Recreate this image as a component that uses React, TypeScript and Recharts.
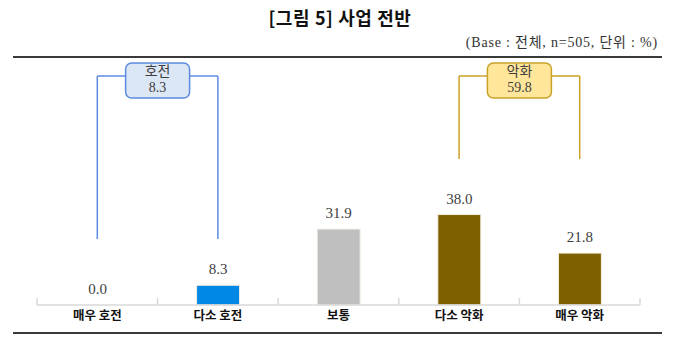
import { Bar, BarChart, Cell, LabelList, ReferenceLine, XAxis, YAxis } from 'recharts';

const categories = ['매우 호전', '다소 호전', '보통', '다소 악화', '매우 악화'];
const shares = [0.0, 8.3, 31.9, 38.0, 21.8];
const barColors = ['#0070C0', '#0088E6', '#BFBFBF', '#7F6000', '#7F6000'];

const groupNames = ['호전', '악화'];
const groupTotals = [8.3, 59.8];
const groupFrom = ['매우 호전', '다소 악화'];
const groupTo = ['다소 호전', '매우 악화'];

// bracket styling (levels are in the chart's value units)
const bracketStyles = [
  { line: '#5B8BE0', fill: '#DCE7F6', bottom: 27.7 },
  { line: '#C9A227', fill: '#FFE69A', bottom: 61.3 },
];
const BRACKET_TOP = 96.2;

const AXIS = '#D9D9D9';
const SERIF = '"Liberation Serif", "Noto Sans CJK KR", serif';
const GOTHIC = '"Noto Sans CJK KR", "Noto Sans", sans-serif';

const data = categories.map((name, i) => ({ name, value: shares[i] }));

function CategoryTick(props: any) {
  const { x, y, payload, index } = props;
  const half = payload?.offset ?? 60;
  return (
    <g>
      <line x1={x - half} x2={x - half} y1={y - 7} y2={y} stroke={AXIS} strokeWidth={1.5} />
      {index === categories.length - 1 && (
        <line x1={x + half} x2={x + half} y1={y - 7} y2={y} stroke={AXIS} strokeWidth={1.5} />
      )}
      <text
        x={x}
        y={y + 15}
        textAnchor="middle"
        fontFamily={GOTHIC}
        fontWeight={700}
        fontSize={12.5}
        fill="#111"
      >
        {payload.value}
      </text>
    </g>
  );
}

function makeBracketLabel(name: string, total: number, line: string, fill: string) {
  return (props: any) => {
    const vb = props.viewBox ?? {};
    const cx = (vb.x ?? 0) + (vb.width ?? 0) / 2;
    const cy = vb.y ?? 0;
    return (
      <g>
        <rect x={cx - 32} y={cy - 13} width={64} height={35} rx={6} fill={fill} stroke={line} strokeWidth={1.5} />
        <text x={cx} y={cy} textAnchor="middle" fontFamily={SERIF} fontSize={14} fill="#404040">
          {name}
        </text>
        <text x={cx} y={cy + 16} textAnchor="middle" fontFamily={SERIF} fontSize={14} fill="#404040">
          {total.toFixed(1)}
        </text>
      </g>
    );
  };
}

export default function App() {
  return (
    <div style={{ position: 'absolute', left: 0, top: 0, width: 680, height: 349, background: '#fff' }}>
      <div style={{ position: 'absolute', left: 0, top: 0 }}>
        <BarChart width={680} height={349} data={data} margin={{ top: 67, right: 40, bottom: 20, left: 37 }}>
          <XAxis
            dataKey="name"
            height={24}
            tickLine={false}
            tickSize={0}
            tickMargin={0}
            axisLine={{ stroke: AXIS, strokeWidth: 1.5 }}
            tick={<CategoryTick />}
            interval={0}
          />
          <YAxis hide domain={[0, 100]} />
          {groupNames.map((name, i) => {
            const st = bracketStyles[i];
            return [
              <ReferenceLine
                key={name + 'l'}
                segment={[{ x: groupFrom[i], y: BRACKET_TOP }, { x: groupFrom[i], y: st.bottom }]}
                stroke={st.line}
                strokeWidth={1.5}
                ifOverflow="visible"
              />,
              <ReferenceLine
                key={name + 'r'}
                segment={[{ x: groupTo[i], y: BRACKET_TOP }, { x: groupTo[i], y: st.bottom }]}
                stroke={st.line}
                strokeWidth={1.5}
                ifOverflow="visible"
              />,
              <ReferenceLine
                key={name + 't'}
                segment={[{ x: groupFrom[i], y: BRACKET_TOP }, { x: groupTo[i], y: BRACKET_TOP }]}
                stroke={st.line}
                strokeWidth={1.5}
                ifOverflow="visible"
                label={makeBracketLabel(name, groupTotals[i], st.line, st.fill)}
              />,
            ];
          })}
          <Bar
            dataKey="value"
            barSize={43}
            minPointSize={0.01}
            isAnimationActive={false}
            stroke="#f4f0e4"
            strokeWidth={1}
          >
            {data.map((d, i) => (
              <Cell key={d.name} fill={barColors[i]} stroke={d.value === 0 ? 'none' : '#f4f0e4'} />
            ))}
            <LabelList
              dataKey="value"
              position="top"
              offset={11}
              formatter={(v: any) => Number(v).toFixed(1)}
              style={{ fontFamily: SERIF, fontSize: 15, fill: '#404040' }}
            />
          </Bar>
        </BarChart>
      </div>
      <div
        style={{
          position: 'absolute',
          left: 0,
          top: 7,
          width: 680,
          textAlign: 'center',
          fontFamily: GOTHIC,
          fontWeight: 700,
          fontSize: 18,
          letterSpacing: 0.6,
          lineHeight: '20px',
          color: '#111',
        }}
      >
        [그림 5] 사업 전반
      </div>
      <div
        style={{
          position: 'absolute',
          right: 22,
          top: 35,
          fontFamily: SERIF,
          fontSize: 14,
          letterSpacing: 0.8,
          lineHeight: '16px',
          color: '#333',
          whiteSpace: 'nowrap',
        }}
      >
        (Base : 전체, n=505, 단위 : %)
      </div>
      <div style={{ position: 'absolute', left: 13, top: 56, width: 649, height: 2, background: '#3a3a3a' }} />
      <div style={{ position: 'absolute', left: 13, top: 332, width: 649, height: 2, background: '#3a3a3a' }} />
    </div>
  );
}
